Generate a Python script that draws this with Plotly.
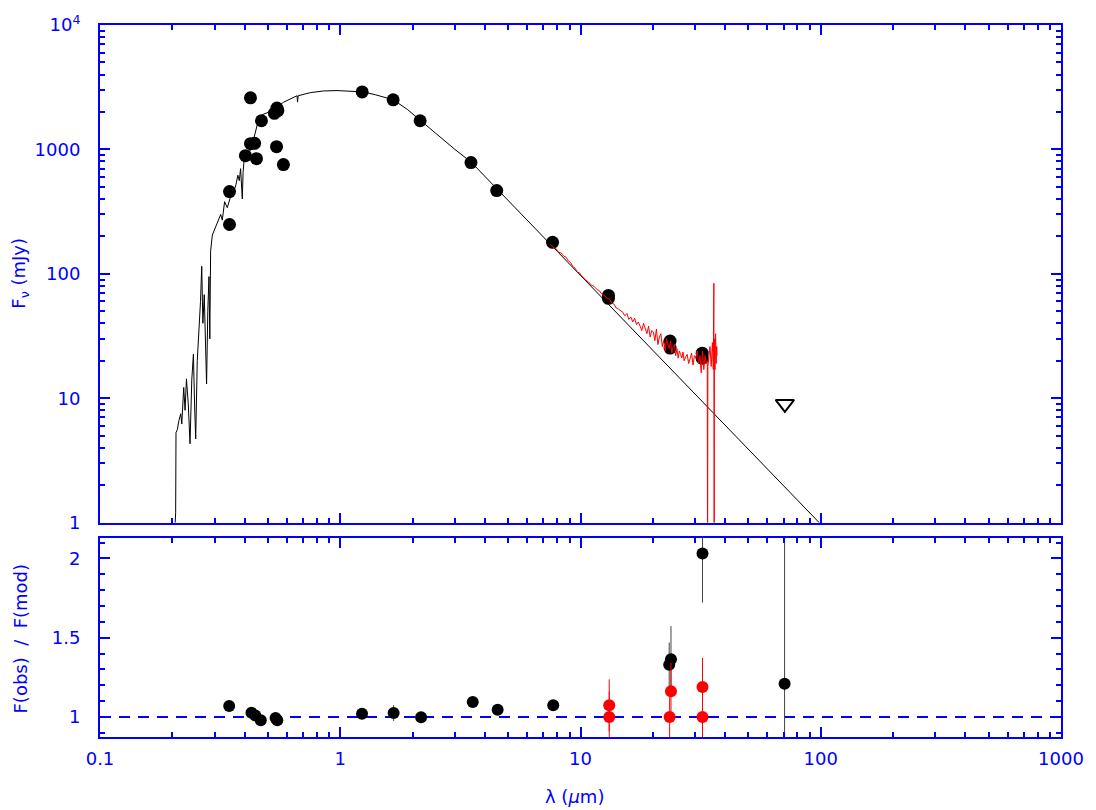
import plotly.graph_objects as go

# ---- photometry (top panel), wavelength in micron, flux in mJy ----
phot_wl = [0.346, 0.346, 0.403, 0.423, 0.423, 0.440, 0.448, 0.470, 0.532, 0.545, 0.550,
           0.543, 0.580, 1.234, 1.66, 2.15, 3.50, 4.48, 7.65, 13.07, 13.07, 23.6, 23.6,
           32.1, 32.1]
phot_flux = [458, 249, 891, 2600, 1112, 1120, 843, 1700, 1950, 2150, 2050,
             1052, 755, 2900, 2505, 1700, 783, 467, 179, 67, 63.5, 28.8, 25.3,
             23, 21]

# upper limit
ul_wl = [70.9]
ul_flux = [9.0]

# ---- stellar photosphere model ----
model_wl = [0.2050, 0.2065, 0.2072, 0.2099, 0.2130, 0.2168, 0.2190, 0.2231, 0.2260, 0.2290,
            0.2330, 0.2370, 0.2410, 0.2448, 0.2475, 0.2502, 0.2540, 0.2584, 0.2620, 0.2651,
            0.2680, 0.2716, 0.2745, 0.2777, 0.2810, 0.2842, 0.2865, 0.2887, 0.2935, 0.3000,
            0.3060, 0.3131, 0.3180, 0.3229, 0.3301, 0.3387, 0.3500, 0.3605, 0.3680, 0.3748,
            0.3800, 0.3847, 0.3880, 0.3911, 0.3940, 0.3974, 0.4100, 0.4234, 0.4380, 0.4515,
            0.4733, 0.4964, 0.5200, 0.5468, 0.5818, 0.6200, 0.6613, 0.6640, 0.6680, 0.7509,
            0.8527, 0.9690, 1.1003, 1.25, 1.40, 1.66, 1.90, 2.15, 2.60, 3.00,
            3.50, 4.00, 4.48, 5.00, 6.00, 7.65, 10.0, 13.0, 17.0, 20.0,
            25.0, 30.0, 40.0, 50.0, 70.0, 100.0]
model_flux = [0.9, 1.2, 5.3, 5.6, 6.6, 7.5, 6.2, 12.2, 8.0, 14.3,
              9.0, 4.3, 14.0, 22.6, 9.0, 4.7, 20, 33.4, 60, 115,
              40, 68, 28, 13, 50, 95, 30, 152, 205, 230,
              250, 280, 300, 270, 380, 340, 420, 460, 520, 620,
              560, 700, 520, 400, 650, 800, 880, 1000, 1250, 1580,
              1900, 1970, 2100, 2200, 2400, 2550, 2700, 2400, 2700, 2860,
              2950, 2970, 2940, 2900, 2750, 2510, 2100, 1720, 1250, 1000,
              793, 607, 484, 389, 270, 166, 97.2, 57.5, 33.6, 24.3,
              15.6, 10.8, 6.08, 3.89, 1.98, 0.97]

# ---- IRS spectrum ----
irs_wl = [7.5, 7.7, 7.9, 8.1, 8.3, 8.5, 8.7, 8.9, 9.1, 9.3,
          9.5, 9.7, 9.9, 10.1, 10.3, 10.5, 10.8, 11.1, 11.4, 11.7,
          12.0, 12.3, 12.6, 12.9, 13.2, 13.5, 13.8, 14.1, 14.4, 14.7,
          15.0, 15.3, 15.6, 15.9, 16.2, 16.5, 16.8, 17.1, 17.4, 17.7,
          18.0, 18.3, 18.6, 18.9, 19.2, 19.5, 19.8, 20.1, 20.4, 20.7,
          21.0, 21.3, 21.6, 21.9, 22.2, 22.5, 22.8, 23.1, 23.4, 23.7,
          24.0, 24.3, 24.6, 24.9, 25.2, 25.5, 25.8, 26.1, 26.4, 26.7,
          27.0, 27.4, 27.8, 28.2, 28.6, 29.0, 29.4, 29.8, 30.2, 30.6,
          31.0, 31.4, 31.8, 32.2, 32.6, 33.0, 33.4, 33.7, 33.8, 33.9,
          34.2, 34.6, 35.0, 35.4, 35.7, 35.9, 36.0, 36.1, 36.3, 36.5,
          36.7, 36.9, 37.0]
irs_flux = [172, 163, 160, 149, 147, 139, 136, 127, 123, 114,
            111, 103, 102, 96, 93, 89, 86, 81, 79, 75,
            73, 68, 67, 63, 63, 58, 57, 53, 52, 50,
            49, 46, 48, 43, 45, 41, 44, 39, 41, 38,
            35, 40, 36, 33, 38, 31, 35, 34, 29, 36,
            27, 31, 33, 26, 29, 24, 30, 27, 25, 29,
            23, 26, 27, 22, 25, 21, 24, 22.5, 21, 23.5,
            20, 21.5, 22.5, 19, 21, 23, 18.5, 22, 21, 24,
            19, 22, 16, 24, 17, 22, 19, 20, 0.3, 18,
            21, 26, 18, 28, 17, 84, 0.3, 30, 17, 33,
            19, 26, 22]

# ---- ratio panel ----
ratio_wl = [0.345, 0.427, 0.443, 0.467, 0.538, 0.547, 1.232, 1.668, 2.17, 3.56,
            4.52, 7.7, 23.4, 23.8, 32.2, 70.7]
ratio = [1.069, 1.027, 1.010, 0.979, 0.994, 0.979, 1.021, 1.025, 0.998, 1.095,
         1.046, 1.074, 1.330, 1.364, 2.032, 1.210]
ratio_err = [0.03, 0.02, 0.02, 0.02, 0.02, 0.02, 0.02, 0.05, 0.035, 0.03,
             0.02, 0.025, 0.14, 0.21, 0.31, 1.3]

irs_ratio_wl = [13.17, 13.17, 23.8, 23.5, 32.2, 32.2]
irs_ratio = [1.074, 1.0, 1.162, 1.0, 1.189, 1.0]
irs_ratio_err = [0.164, 0.16, 0.18, 0.18, 0.184, 0.18]

BLUE = "#0000ff"
FONT = "DejaVu Sans"

fig = go.Figure()

fig.add_trace(go.Scatter(x=model_wl, y=model_flux, mode="lines",
                         line=dict(color="black", width=1), xaxis="x", yaxis="y"))
fig.add_trace(go.Scatter(x=phot_wl, y=phot_flux, mode="markers",
                         marker=dict(color="black", size=13), xaxis="x", yaxis="y"))
fig.add_trace(go.Scatter(x=irs_wl, y=irs_flux, mode="lines",
                         line=dict(color="#ff0000", width=1), xaxis="x", yaxis="y"))
fig.add_trace(go.Scatter(x=ul_wl, y=ul_flux, mode="markers",
                         marker=dict(symbol="triangle-down-open", color="black", size=16,
                                     line=dict(width=2, color="black")),
                         xaxis="x", yaxis="y"))

fig.add_trace(go.Scatter(x=ratio_wl, y=ratio, mode="markers",
                         marker=dict(color="black", size=12),
                         error_y=dict(type="data", array=ratio_err, color="#444444",
                                      thickness=1, width=0),
                         xaxis="x2", yaxis="y2"))
fig.add_trace(go.Scatter(x=irs_ratio_wl, y=irs_ratio, mode="markers",
                         marker=dict(color="#ff0000", size=12),
                         error_y=dict(type="data", array=irs_ratio_err, color="#ff0000",
                                      thickness=1, width=0),
                         xaxis="x2", yaxis="y2"))

minor_log = [m * 10 ** e for e in range(-1, 3) for m in range(2, 10)]

axis_common = dict(showline=True, linecolor=BLUE, linewidth=2, mirror="ticks",
                   ticks="inside", ticklen=10, tickwidth=2, tickcolor=BLUE,
                   showgrid=False, zeroline=False,
                   tickfont=dict(family=FONT, size=18, color=BLUE))

fig.update_layout(
    width=1096, height=810,
    margin=dict(l=100, r=35, t=23, b=73),
    paper_bgcolor="white", plot_bgcolor="white",
    showlegend=False,
    xaxis=dict(type="log", range=[-1, 3], domain=[0, 1], anchor="y",
               showticklabels=False, tickvals=[0.1, 1, 10, 100, 1000],
               minor=dict(tickvals=minor_log, ticks="inside", ticklen=5,
                          tickwidth=2, tickcolor=BLUE),
               **axis_common),
    yaxis=dict(type="log", range=[0, 4], domain=[0.3011, 1], anchor="x",
               tickvals=[1, 10, 100, 1000, 10000],
               ticktext=["1", "10", "100", "1000", "10<sup>4</sup>"],
               ticklabelstandoff=14,
               minor=dict(tickvals=[m * 10 ** e for e in range(0, 4) for m in range(2, 10)],
                          ticks="inside", ticklen=5, tickwidth=2, tickcolor=BLUE),
               **axis_common),
    xaxis2=dict(type="log", range=[-1, 3], domain=[0, 1], anchor="y2",
                tickvals=[0.1, 1, 10, 100, 1000],
                ticktext=["0.1", "1", "10", "100", "1000"],
                ticklabelstandoff=4,
                minor=dict(tickvals=minor_log, ticks="inside", ticklen=5,
                           tickwidth=2, tickcolor=BLUE),
                **axis_common),
    yaxis2=dict(range=[0.874, 2.132], domain=[0, 0.2801], anchor="x2",
                tickvals=[1, 1.5, 2], ticktext=["1", "1.5", "2"],
                ticklabelstandoff=14,
                minor=dict(dtick=0.1, tick0=0, ticks="inside", ticklen=5,
                           tickwidth=2, tickcolor=BLUE),
                **axis_common),
    shapes=[dict(type="line", xref="x2 domain", x0=0, x1=1, yref="y2", y0=1, y1=1,
                 line=dict(color=BLUE, width=2, dash="11px,8px"), layer="below")],
    annotations=[
        dict(text="F<sub>ν</sub> (mJy)", xref="paper", yref="paper", x=-0.083, y=0.651,
             textangle=-90, showarrow=False, xanchor="center", yanchor="middle",
             font=dict(family=FONT, size=18, color=BLUE)),
        dict(text="F(obs)\u00a0\u00a0/\u00a0\u00a0F(mod)", xref="paper", yref="paper",
             x=-0.083, y=0.1387, textangle=-90, showarrow=False,
             xanchor="center", yanchor="middle",
             font=dict(family=FONT, size=18, color=BLUE)),
        dict(text="λ (<i>μ</i>m)", xref="paper", yref="paper", x=0.494, y=-0.084,
             showarrow=False, xanchor="center", yanchor="middle",
             font=dict(family=FONT, size=18, color=BLUE)),
    ],
)

fig.write_html("out.html")
